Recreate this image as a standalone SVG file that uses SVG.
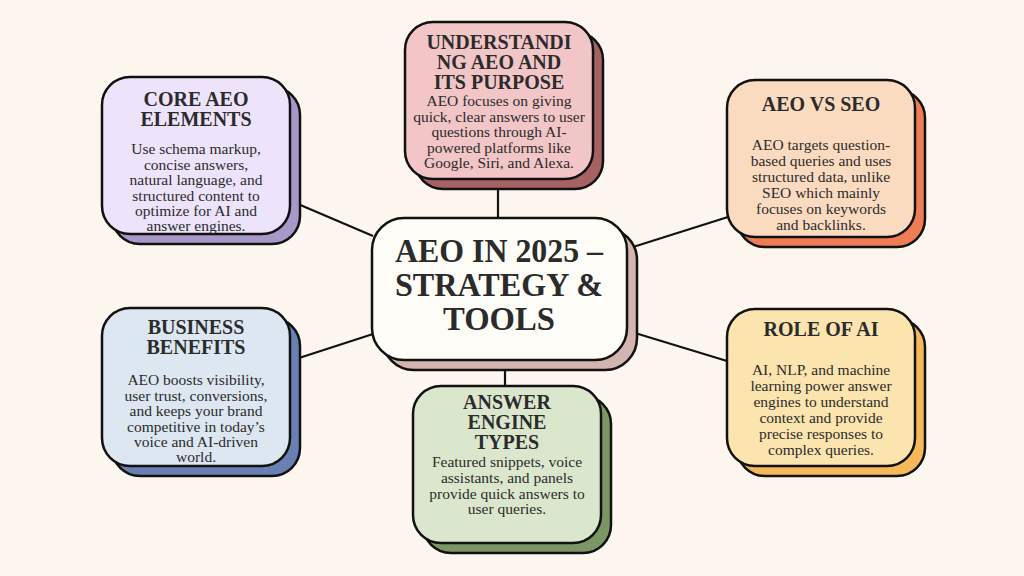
<svg xmlns="http://www.w3.org/2000/svg" width="1024" height="576" viewBox="0 0 1024 576">
<style>
.bx{stroke:#111;stroke-width:2.5}
.t{font-family:"Liberation Serif","Times New Roman",serif;font-weight:bold;font-size:20px;fill:#2b2b2b;text-anchor:middle}
.b{font-family:"Liberation Serif","Times New Roman",serif;font-size:15.5px;fill:#2b2b2b;text-anchor:middle}
.c{font-family:"Liberation Serif","Times New Roman",serif;font-weight:bold;font-size:34px;fill:#2b2b2b;text-anchor:middle}
.ln{stroke:#111;stroke-width:2.2;fill:none}
</style>
<rect width="1024" height="576" fill="#fdf6ee"/>
<g id="connectors">
<line class="ln" x1="498" y1="188" x2="498" y2="219"/>
<line class="ln" x1="298" y1="204" x2="373" y2="236"/>
<line class="ln" x1="633" y1="247" x2="728" y2="217"/>
<line class="ln" x1="299" y1="358" x2="373" y2="334"/>
<line class="ln" x1="635" y1="333" x2="727" y2="361"/>
<line class="ln" x1="505" y1="371" x2="505" y2="387"/>
</g>
<g id="core">
<rect class="bx" x="112" y="87" width="188" height="157" rx="28" fill="#a898c9"/>
<rect class="bx" x="102" y="77" width="188" height="157" rx="28" fill="#ede4fb"/>
<text class="t" x="196" y="106">CORE AEO</text>
<text class="t" x="196" y="126">ELEMENTS</text>
<text class="b" x="196" y="154">Use schema markup,</text>
<text class="b" x="196" y="169.5">concise answers,</text>
<text class="b" x="196" y="185">natural language, and</text>
<text class="b" x="196" y="200.5">structured content to</text>
<text class="b" x="196" y="216">optimize for AI and</text>
<text class="b" x="196" y="231">answer engines.</text>
</g>
<g id="understanding">
<rect class="bx" x="415" y="32" width="188" height="157" rx="28" fill="#a66163"/>
<rect class="bx" x="405" y="22" width="188" height="157" rx="28" fill="#f2c5c7"/>
<text class="t" x="499" y="49">UNDERSTANDI</text>
<text class="t" x="499" y="69">NG AEO AND</text>
<text class="t" x="499" y="89">ITS PURPOSE</text>
<text class="b" x="499" y="106">AEO focuses on giving</text>
<text class="b" x="499" y="121.5">quick, clear answers to user</text>
<text class="b" x="499" y="137">questions through AI-</text>
<text class="b" x="499" y="152.5">powered platforms like</text>
<text class="b" x="499" y="168">Google, Siri, and Alexa.</text>
</g>
<g id="aeo-vs-seo">
<rect class="bx" x="737" y="90" width="188" height="157" rx="28" fill="#ee7d55"/>
<rect class="bx" x="727" y="80" width="188" height="157" rx="28" fill="#fbdbc0"/>
<text class="t" x="821" y="111">AEO VS SEO</text>
<text class="b" x="821" y="150">AEO targets question-</text>
<text class="b" x="821" y="166">based queries and uses</text>
<text class="b" x="821" y="182">structured data, unlike</text>
<text class="b" x="821" y="198">SEO which mainly</text>
<text class="b" x="821" y="214">focuses on keywords</text>
<text class="b" x="821" y="230">and backlinks.</text>
</g>
<g id="center">
<rect class="bx" x="382" y="228" width="255" height="142" rx="32" fill="#d4b4ae"/>
<rect class="bx" x="372" y="218" width="255" height="142" rx="32" fill="#fefcf7"/>
<text class="c" x="499" y="262" textLength="208" lengthAdjust="spacingAndGlyphs">AEO IN 2025 –</text>
<text class="c" x="499" y="296" textLength="208" lengthAdjust="spacingAndGlyphs">STRATEGY &amp;</text>
<text class="c" x="499" y="330" textLength="112" lengthAdjust="spacingAndGlyphs">TOOLS</text>
</g>
<g id="business">
<rect class="bx" x="112" y="318" width="188" height="158" rx="28" fill="#6a7fb2"/>
<rect class="bx" x="102" y="308" width="188" height="158" rx="28" fill="#dce7f1"/>
<text class="t" x="196" y="334">BUSINESS</text>
<text class="t" x="196" y="354">BENEFITS</text>
<text class="b" x="196" y="385">AEO boosts visibility,</text>
<text class="b" x="196" y="400.5">user trust, conversions,</text>
<text class="b" x="196" y="416">and keeps your brand</text>
<text class="b" x="196" y="431.5">competitive in today’s</text>
<text class="b" x="196" y="447">voice and AI-driven</text>
<text class="b" x="196" y="462">world.</text>
</g>
<g id="answer-engine">
<rect class="bx" x="423" y="396" width="188" height="157" rx="28" fill="#7b9565"/>
<rect class="bx" x="413" y="386" width="188" height="157" rx="28" fill="#dbe7cc"/>
<text class="t" x="507" y="409">ANSWER</text>
<text class="t" x="507" y="429">ENGINE</text>
<text class="t" x="507" y="449">TYPES</text>
<text class="b" x="507" y="467">Featured snippets, voice</text>
<text class="b" x="507" y="483">assistants, and panels</text>
<text class="b" x="507" y="499">provide quick answers to</text>
<text class="b" x="507" y="514">user queries.</text>
</g>
<g id="role-of-ai">
<rect class="bx" x="737" y="319" width="188" height="157" rx="28" fill="#f6b95a"/>
<rect class="bx" x="727" y="309" width="188" height="157" rx="28" fill="#fbe4ae"/>
<text class="t" x="821" y="336">ROLE OF AI</text>
<text class="b" x="821" y="375">AI, NLP, and machine</text>
<text class="b" x="821" y="391">learning power answer</text>
<text class="b" x="821" y="407">engines to understand</text>
<text class="b" x="821" y="423">context and provide</text>
<text class="b" x="821" y="439">precise responses to</text>
<text class="b" x="821" y="455">complex queries.</text>
</g>
</svg>
